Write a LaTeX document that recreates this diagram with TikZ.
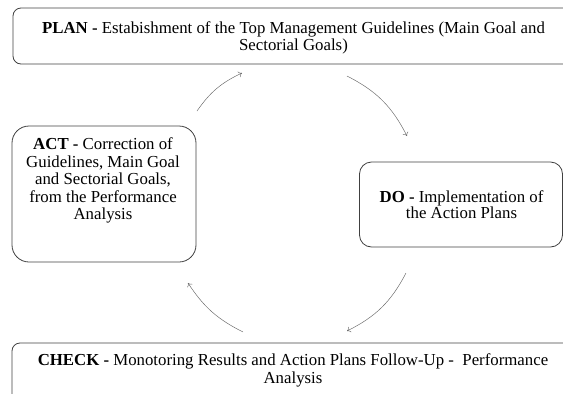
\documentclass[tikz,border=0pt]{standalone}
\usepackage{fontspec}
\setmainfont{Liberation Serif}
\usetikzlibrary{arrows.meta}
\begin{document}
\begin{tikzpicture}[x=1pt,y=-1pt,
  box/.style={draw=black!75,line width=0.8pt,rounded corners=#1,inner sep=0pt},
  box/.default=8pt,
  txt/.style={align=center,anchor=north,inner sep=0pt,font=\fontsize{16.8}{#1}\selectfont},
  txt/.default=17.5pt,
  cyc/.style={draw=black!60,line width=0.45pt,-{To[length=3.5pt,width=6pt]}},
]
\useasboundingbox (0,0) rectangle (563,394);
% boxes
\node[box=8pt,minimum width=610pt,minimum height=56pt] (plan) at (318,36) {};
\node[txt=16.7pt] (plantxt) at (293.5,21.8) {\textbf{PLAN -} Estabishment of the Top Management Guidelines (Main Goal and\\Sectorial Goals)};
\node[box=17pt,minimum width=184pt,minimum height=136pt] (act) at (104,194) {};
\node[txt=17.5pt] (acttxt) at (103,137.5) {\textbf{ACT -} Correction of\\Guidelines, Main Goal\\and Sectorial Goals,\\from the Performance\\Analysis};
\node[box=12pt,minimum width=203pt,minimum height=85pt] (do) at (461,204.5) {};
\node[txt=16pt] (dotxt) at (461.5,190) {\textbf{DO -} Implementation of\\the Action Plans};
\node[box=8pt,minimum width=610pt,minimum height=70pt] (check) at (317,378) {};
\node[txt=18pt] (checktxt) at (293,353.5) {\textbf{CHECK -} Monotoring Results and Action Plans Follow-Up -~~Performance\\Analysis};
% arrow ends
\coordinate (a1) at (197,111); \coordinate (a2) at (242,73);
\coordinate (b1) at (347,76);  \coordinate (b2) at (407,136);
\coordinate (c1) at (406,273); \coordinate (c2) at (347,331);
\coordinate (d1) at (243,332); \coordinate (d2) at (188,283);
\draw[cyc] (a1) to[bend left=15] (a2);
\draw[cyc] (b1) to[bend left=18] (b2);
\draw[cyc] (c1) to[bend left=18] (c2);
\draw[cyc] (d1) to[bend left=15] (d2);
\end{tikzpicture}
\end{document}
